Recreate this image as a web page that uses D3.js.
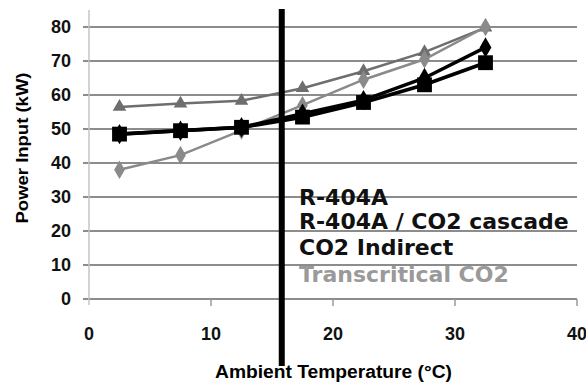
<!DOCTYPE html>
<html>
<head>
<meta charset="utf-8">
<script src="https://cdn.jsdelivr.net/npm/d3@7"></script>
<style>
  html, body { margin: 0; padding: 0; background: #fff; }
  svg { display: block; }
</style>
</head>
<body>
<svg id="chart" width="586" height="383"></svg>
<script>
// ---- data ----
const temps = [2.5, 7.5, 12.5, 17.5, 22.5, 27.5, 32.5];
const r404a = [48.5, 49.5, 50.5, 54.5, 58.5, 65, 74];
const cascade = [48.5, 49.5, 50.5, 53.5, 57.8, 63, 69.5];
const co2Indirect = [56.5, 57.5, 58.3, 62, 67, 72.6, 79.8];
const transcritical = [38, 42.3, 49.6, 57, 64.5, 70.5, 80];
const xTicks = [0, 10, 20, 30, 40];
const yTicks = [0, 10, 20, 30, 40, 50, 60, 70, 80];
const refTemp = 15.8;
const legendLabels = ["R-404A", "R-404A / CO2 cascade", "CO2 Indirect", "Transcritical CO2"];

// ---- layout ----
const svg = d3.select("#chart");
const x = d3.scaleLinear().domain([0, 40]).range([89, 577]);
const y = d3.scaleLinear().domain([0, 85]).range([299, 10]);

// gridlines (with small left ticks)
svg.append("g").selectAll("line").data(yTicks).join("line")
  .attr("x1", 83).attr("x2", x(40))
  .attr("y1", d => y(d)).attr("y2", d => y(d))
  .attr("stroke", "#8c8c8c").attr("stroke-width", 2);

// y axis line
svg.append("line").attr("x1", x(0)).attr("x2", x(0)).attr("y1", y(85)).attr("y2", y(0) + 6)
  .attr("stroke", "#c4c4c4").attr("stroke-width", 1.5);

// x ticks
svg.append("g").selectAll("line").data(xTicks.slice(1)).join("line")
  .attr("x1", d => x(d)).attr("x2", d => x(d))
  .attr("y1", y(0)).attr("y2", y(0) + 7)
  .attr("stroke", "#9a9a9a").attr("stroke-width", 1.5);

// y tick labels
svg.append("g").selectAll("text").data(yTicks).join("text")
  .attr("x", 71).attr("y", d => y(d)).attr("dy", "0.35em")
  .attr("text-anchor", "end")
  .attr("font-family", "Liberation Sans, Arial, sans-serif")
  .attr("font-weight", "bold").attr("font-size", 18).attr("fill", "#111")
  .text(d => d);

// x tick labels
svg.append("g").selectAll("text").data(xTicks).join("text")
  .attr("x", d => x(d)).attr("y", 340)
  .attr("text-anchor", "middle")
  .attr("font-family", "Liberation Sans, Arial, sans-serif")
  .attr("font-weight", "bold").attr("font-size", 18).attr("fill", "#111")
  .text(d => d);

// axis titles
svg.append("text")
  .attr("transform", "translate(28,148) rotate(-90)")
  .attr("text-anchor", "middle")
  .attr("font-family", "Liberation Sans, Arial, sans-serif")
  .attr("font-weight", "bold").attr("font-size", 17).attr("fill", "#000")
  .attr("textLength", 151).attr("lengthAdjust", "spacingAndGlyphs")
  .text("Power Input (kW)");

svg.append("text")
  .attr("x", 215).attr("y", 378)
  .attr("font-family", "Liberation Sans, Arial, sans-serif")
  .attr("font-weight", "bold").attr("font-size", 18).attr("fill", "#000")
  .attr("textLength", 237).attr("lengthAdjust", "spacingAndGlyphs")
  .text("Ambient Temperature (°C)");

// series
const line = d3.line().x((d, i) => x(temps[i])).y(d => y(d));
const series = [
  { values: co2Indirect, color: "#6e6e6e", width: 2.5, symbol: d3.symbolTriangle, size: 80 },
  { values: transcritical, color: "#8a8a8a", width: 2.5, symbol: d3.symbolDiamond, size: 100 },
  { values: r404a, color: "#000", width: 3.5, symbol: d3.symbolDiamond, size: 120 },
  { values: cascade, color: "#000", width: 3.8, symbol: d3.symbolSquare, size: 220 }
];
series.forEach(s => {
  svg.append("path").datum(s.values)
    .attr("d", line).attr("fill", "none")
    .attr("stroke", s.color).attr("stroke-width", s.width);
  svg.append("g").selectAll("path").data(s.values).join("path")
    .attr("transform", (d, i) => `translate(${x(temps[i])},${y(d)})`)
    .attr("d", d3.symbol().type(s.symbol).size(s.size))
    .attr("fill", s.color);
});

// thick reference line
svg.append("line")
  .attr("x1", x(refTemp)).attr("x2", x(refTemp))
  .attr("y1", 9).attr("y2", 366)
  .attr("stroke", "#000").attr("stroke-width", 6);

// legend text
const legendColors = ["#111", "#111", "#111", "#9a9a9a"];
const legendY = [205, 229, 255, 282];
svg.append("g").selectAll("text").data(legendLabels).join("text")
  .attr("x", 299).attr("y", (d, i) => legendY[i])
  .attr("font-family", "DejaVu Sans, sans-serif")
  .attr("font-weight", "bold").attr("font-size", 22)
  .attr("fill", (d, i) => legendColors[i])
  .text(d => d);
</script>
</body>
</html>
